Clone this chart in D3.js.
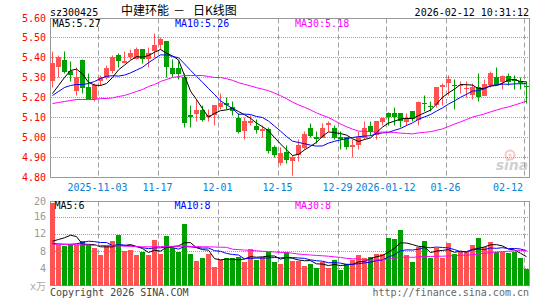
<!DOCTYPE html>
<html>
<head>
<meta charset="utf-8">
<script src="https://cdn.jsdelivr.net/npm/d3@7"></script>
<style>
  body { margin: 0; background: #fff; }
  text { font-family: "DejaVu Sans Mono", monospace; font-size: 10px; }
</style>
</head>
<body>
<div id="chart"></div>
<script>
// -------------------- DATA --------------------

// trading days shown (80 sessions)
const days = [
  "2025-10-22", "2025-10-23", "2025-10-24", "2025-10-27", "2025-10-28", "2025-10-29", "2025-10-30", "2025-10-31",
  "2025-11-03", "2025-11-04", "2025-11-05", "2025-11-06", "2025-11-07",
  "2025-11-10", "2025-11-11", "2025-11-12", "2025-11-13", "2025-11-14",
  "2025-11-17", "2025-11-18", "2025-11-19", "2025-11-20", "2025-11-21",
  "2025-11-24", "2025-11-25", "2025-11-26", "2025-11-27", "2025-11-28",
  "2025-12-01", "2025-12-02", "2025-12-03", "2025-12-04", "2025-12-05",
  "2025-12-08", "2025-12-09", "2025-12-10", "2025-12-11", "2025-12-12",
  "2025-12-15", "2025-12-16", "2025-12-17", "2025-12-18", "2025-12-19",
  "2025-12-22", "2025-12-23", "2025-12-24", "2025-12-25", "2025-12-26",
  "2025-12-29", "2025-12-30", "2025-12-31",
  "2026-01-05", "2026-01-06", "2026-01-07", "2026-01-08", "2026-01-09",
  "2026-01-12", "2026-01-13", "2026-01-14", "2026-01-15", "2026-01-16",
  "2026-01-19", "2026-01-20", "2026-01-21", "2026-01-22", "2026-01-23",
  "2026-01-26", "2026-01-27", "2026-01-28", "2026-01-29", "2026-01-30",
  "2026-02-02", "2026-02-03", "2026-02-04", "2026-02-05", "2026-02-06",
  "2026-02-09", "2026-02-10", "2026-02-11", "2026-02-12"
];

const open = [
  5.28, 5.35, 5.39, 5.33, 5.23, 5.39, 5.25, 5.19, 5.28, 5.30,
  5.33, 5.41, 5.37, 5.40, 5.39, 5.44, 5.39, 5.43, 5.46, 5.48,
  5.35, 5.35, 5.30, 5.11, 5.12, 5.14, 5.10, 5.11, 5.15, 5.17,
  5.15, 5.10, 5.03, 5.07, 5.06, 5.03, 5.04, 4.95, 4.87, 4.93,
  4.88, 4.91, 4.95, 5.05, 5.00, 5.00, 5.06, 5.05, 5.00, 5.00,
  4.95, 4.96, 5.00, 5.06, 5.01, 5.08, 5.12, 5.12, 5.12, 5.08,
  5.13, 5.09, 5.17, 5.155, 5.16, 5.25, 5.27, 5.265, 5.26, 5.24,
  5.21, 5.25, 5.21, 5.26, 5.30, 5.28, 5.31, 5.29, 5.28, 5.255
];
const high = [
  5.43, 5.41, 5.43, 5.38, 5.35, 5.39, 5.32, 5.27, 5.31, 5.36,
  5.41, 5.42, 5.43, 5.44, 5.45, 5.44, 5.45, 5.52, 5.50, 5.48,
  5.39, 5.38, 5.32, 5.16, 5.19, 5.16, 5.14, 5.16, 5.22, 5.20,
  5.18, 5.12, 5.10, 5.11, 5.09, 5.06, 5.05, 4.96, 4.95, 4.96,
  4.91, 4.99, 5.03, 5.07, 5.03, 5.07, 5.08, 5.06, 5.03, 5.00,
  4.99, 5.03, 5.08, 5.08, 5.08, 5.10, 5.125, 5.15, 5.12, 5.12,
  5.13, 5.18, 5.21, 5.18, 5.25, 5.27, 5.31, 5.29, 5.28, 5.28,
  5.27, 5.32, 5.29, 5.33, 5.35, 5.31, 5.32, 5.31, 5.30, 5.28
];
const low = [
  5.25, 5.30, 5.32, 5.28, 5.21, 5.22, 5.19, 5.18, 5.26, 5.29,
  5.32, 5.35, 5.37, 5.39, 5.39, 5.37, 5.35, 5.40, 5.44, 5.30,
  5.30, 5.29, 5.05, 5.05, 5.08, 5.08, 5.08, 5.06, 5.14, 5.14,
  5.11, 5.02, 4.99, 5.06, 5.02, 5.00, 4.92, 4.90, 4.86, 4.87,
  4.81, 4.88, 4.94, 5.00, 4.97, 5.00, 5.03, 4.99, 4.94, 4.94,
  4.90, 4.94, 4.99, 5.01, 4.99, 5.06, 5.06, 5.06, 5.05, 5.06,
  5.08, 5.06, 5.13, 5.13, 5.15, 5.16, 5.21, 5.14, 5.22, 5.20,
  5.19, 5.18, 5.21, 5.25, 5.26, 5.24, 5.26, 5.24, 5.24, 5.17
];
const close = [
  5.37, 5.40, 5.33, 5.31, 5.30, 5.25, 5.19, 5.26, 5.30, 5.35,
  5.40, 5.38, 5.38, 5.42, 5.44, 5.39, 5.42, 5.46, 5.49, 5.35,
  5.32, 5.32, 5.07, 5.10, 5.14, 5.09, 5.11, 5.16, 5.17, 5.16,
  5.13, 5.03, 5.08, 5.08, 5.04, 5.04, 4.93, 4.91, 4.92, 4.89,
  4.90, 4.96, 5.02, 5.01, 4.99, 5.05, 5.07, 5.00, 4.99, 4.95,
  4.96, 5.00, 5.05, 5.03, 5.08, 5.10, 5.10, 5.10, 5.08, 5.10,
  5.09, 5.18, 5.165, 5.15, 5.25, 5.26, 5.29, 5.26, 5.265, 5.245,
  5.25, 5.20, 5.27, 5.32, 5.26, 5.31, 5.28, 5.28, 5.27, 5.25
];

// moving averages of the close (as plotted)
const ma5 = [
  5.22, 5.26, 5.30, 5.335, 5.342, 5.318, 5.276, 5.262, 5.26, 5.27,
  5.30, 5.338, 5.362, 5.386, 5.404, 5.402, 5.41, 5.426, 5.44, 5.422,
  5.408, 5.388, 5.31, 5.232, 5.19, 5.144, 5.102, 5.12, 5.134, 5.138,
  5.146, 5.13, 5.114, 5.096, 5.072, 5.054, 5.034, 5.00, 4.968, 4.938,
  4.91, 4.916, 4.938, 4.956, 4.976, 5.006, 5.028, 5.024, 5.02, 5.012,
  4.994, 4.98, 4.99, 4.998, 5.024, 5.052, 5.072, 5.082, 5.092, 5.096,
  5.094, 5.11, 5.123, 5.137, 5.167, 5.201, 5.223, 5.242, 5.265, 5.264,
  5.262, 5.244, 5.246, 5.257, 5.26, 5.272, 5.288, 5.29, 5.28, 5.278
];
const ma10 = [
  5.21, 5.23, 5.25, 5.26, 5.265, 5.265, 5.27, 5.28, 5.295, 5.306,
  5.309, 5.307, 5.312, 5.323, 5.337, 5.351, 5.374, 5.394, 5.413, 5.413,
  5.405, 5.399, 5.368, 5.336, 5.306, 5.276, 5.245, 5.215, 5.183, 5.164,
  5.145, 5.116, 5.117, 5.115, 5.105, 5.10, 5.082, 5.057, 5.032, 5.005,
  4.982, 4.975, 4.969, 4.962, 4.957, 4.958, 4.972, 4.981, 4.988, 4.994,
  5.00, 5.004, 5.007, 5.009, 5.018, 5.023, 5.026, 5.036, 5.045, 5.06,
  5.073, 5.091, 5.103, 5.115, 5.132, 5.148, 5.167, 5.183, 5.201, 5.216,
  5.232, 5.234, 5.244, 5.261, 5.262, 5.267, 5.266, 5.268, 5.269, 5.269
];
const ma30 = [
  5.17, 5.175, 5.18, 5.185, 5.19, 5.19, 5.19, 5.19, 5.195, 5.195,
  5.198, 5.205, 5.21, 5.22, 5.23, 5.24, 5.255, 5.265, 5.28, 5.29,
  5.30, 5.305, 5.31, 5.31, 5.31, 5.31, 5.305, 5.30, 5.30, 5.294,
  5.286, 5.274, 5.266, 5.258, 5.249, 5.242, 5.234, 5.222, 5.209, 5.194,
  5.177, 5.163, 5.151, 5.138, 5.123, 5.111, 5.10, 5.084, 5.068, 5.054,
  5.042, 5.032, 5.031, 5.029, 5.027, 5.027, 5.027, 5.025, 5.022, 5.02,
  5.018, 5.023, 5.026, 5.029, 5.036, 5.043, 5.055, 5.067, 5.078, 5.09,
  5.102, 5.11, 5.118, 5.128, 5.137, 5.146, 5.153, 5.162, 5.172, 5.182
];

// volume (x万)
const volume = [
  19.3, 9.4, 9.2, 9.6, 9.4, 10.3, 9.4, 8.8, 7.1, 9.3,
  10.3, 11.7, 8.0, 8.3, 7.1, 7.9, 7.1, 10.6, 7.3, 11.5,
  8.8, 7.9, 14.3, 7.3, 5.7, 6.5, 7.3, 4.4, 5.9, 6.5,
  6.3, 6.7, 5.5, 8.5, 5.9, 6.7, 7.7, 5.5, 4.9, 7.7,
  5.8, 5.8, 4.6, 5.0, 4.0, 5.5, 4.1, 5.9, 3.6, 5.0,
  5.9, 7.1, 6.5, 6.7, 7.3, 7.3, 11.1, 10.9, 13.0, 7.1,
  5.5, 9.0, 10.4, 6.3, 8.8, 6.3, 9.9, 7.3, 7.7, 7.7,
  9.4, 11.1, 9.0, 10.1, 7.9, 7.9, 7.5, 7.9, 6.3, 3.9
];
const volMa5 = [
  10.3, 10.7, 11.1, 11.7, 11.38, 9.58, 9.58, 9.5, 9.0, 8.98,
  8.98, 9.44, 9.28, 9.52, 9.08, 8.6, 7.68, 8.2, 8.0, 8.88,
  9.06, 9.22, 9.96, 9.96, 8.8, 8.34, 8.22, 6.24, 5.96, 6.12,
  6.08, 5.96, 6.18, 6.7, 6.58, 6.66, 6.86, 6.86, 6.14, 6.5,
  6.32, 5.94, 5.76, 5.78, 5.04, 4.98, 4.64, 4.9, 4.62, 4.82,
  4.9, 5.5, 5.62, 6.24, 6.7, 6.98, 7.78, 8.66, 9.92, 9.88,
  9.52, 9.1, 9.0, 7.66, 8.0, 8.16, 8.34, 7.72, 8.0, 7.78,
  8.4, 8.64, 8.98, 9.46, 9.5, 9.2, 8.48, 8.26, 7.5, 6.7
];
const volMa10 = [
  9.8, 9.65, 9.6, 9.6, 9.7, 10.0, 10.3, 10.2, 10.0, 10.0,
  9.28, 9.51, 9.39, 9.26, 9.03, 8.79, 8.56, 8.74, 8.76, 8.98,
  8.83, 8.45, 9.08, 8.98, 8.84, 8.7, 8.72, 8.1, 7.96, 7.46,
  7.21, 7.09, 6.21, 6.33, 6.35, 6.37, 6.41, 6.52, 6.42, 6.54,
  6.49, 6.4, 6.31, 5.96, 5.77, 5.65, 5.29, 5.33, 5.2, 4.93,
  4.94, 5.07, 5.26, 5.43, 5.76, 5.94, 6.64, 7.14, 8.08, 8.29,
  8.25, 8.44, 8.83, 8.79, 8.94, 8.84, 8.72, 8.36, 7.83, 7.89,
  8.28, 8.49, 8.35, 8.73, 8.64, 8.8, 8.56, 8.62, 8.48, 8.1
];
const volMa30 = [
  9.6, 9.6, 9.55, 9.5, 9.5, 9.45, 9.4, 9.35, 9.3, 9.3,
  9.25, 9.2, 9.15, 9.1, 9.05, 9.0, 9.0, 9.0, 9.05, 9.1,
  9.1, 9.1, 9.15, 9.1, 9.05, 9.0, 9.0, 8.95, 8.9, 8.87,
  8.44, 8.35, 8.23, 8.19, 8.07, 7.95, 7.9, 7.79, 7.71, 7.66,
  7.51, 7.31, 7.2, 7.09, 6.99, 6.91, 6.81, 6.65, 6.53, 6.31,
  6.21, 6.19, 5.93, 5.91, 5.96, 5.99, 6.11, 6.33, 6.57, 6.59,
  6.56, 6.64, 6.8, 6.73, 6.82, 6.81, 6.88, 6.94, 7.04, 7.04,
  7.16, 7.33, 7.48, 7.65, 7.78, 7.86, 7.97, 8.04, 8.13, 8.09
];

// axis ticks
const priceTicks = [5.60, 5.50, 5.40, 5.30, 5.20, 5.10, 5.00, 4.90, 4.80];
const volTicks = [20, 16, 12, 8, 4];
const tickDays = ["2025-11-03", "2025-11-17", "2025-12-01", "2025-12-15", "2025-12-29", "2026-01-12", "2026-01-26", "2026-02-12"];
const tickLabels = ["2025-11-03", "11-17", "12-01", "12-15", "12-29", "2026-01-12", "01-26", "02-12"];

// -------------------- LAYOUT --------------------

const width = 545;
const height = 300;
const left = 50, right = 530;
const priceTop = 18.5, priceBottom = 177.5;
const volTop = 201.5, volBottom = 285.5;

const red = "#ff5252";
const green = "#00a000";
const gridColor = "#a0a0a0";

const x = d3.scaleBand().domain(days).range([left, right]);
const yPrice = d3.scaleLinear().domain([4.80, 5.60]).range([177.5, 17.5]);
const yVol = d3.scaleLinear().domain([0, 20]).range([285.5, 199.5]);

const bars = days.map((d, i) => ({
  day: d, o: open[i], h: high[i], l: low[i], c: close[i], v: volume[i]
}));

const svg = d3.select("#chart")
  .append("svg")
  .attr("width", width)
  .attr("height", height);

svg.append("rect").attr("width", width).attr("height", height).attr("fill", "#fff");

// -------------------- HEADER --------------------

svg.append("text").attr("x", 50).attr("y", 15.5).attr("fill", "#000").text("sz300425");

const title = svg.append("text")
  .attr("y", 15)
  .attr("fill", "#000")
  .style("font-family", "'Noto Sans CJK SC', sans-serif")
  .style("font-size", "12px");
title.append("tspan").attr("x", 121).text("中建环能");
title.append("tspan").attr("x", 173).text("－");
title.append("tspan").attr("x", 193).text("日K线图");

svg.append("text")
  .attr("x", 529).attr("y", 15.5)
  .attr("text-anchor", "end")
  .attr("fill", "#000")
  .text("2026-02-12 10:31:12");

// -------------------- FRAMES & GRID --------------------

function panel(top, bottom) {
  // vertical dashed lines at date ticks
  svg.append("g")
    .selectAll("line")
    .data(tickDays)
    .enter()
    .append("line")
    .attr("x1", d => x(d) + 0.5)
    .attr("x2", d => x(d) + 0.5)
    .attr("y1", top)
    .attr("y2", bottom)
    .attr("stroke", gridColor)
    .attr("stroke-dasharray", "5,3");

  svg.append("rect")
    .attr("x", left + 0.5)
    .attr("y", top)
    .attr("width", right - left - 1)
    .attr("height", bottom - top)
    .attr("fill", "none")
    .attr("stroke", "#999");
}

panel(priceTop, priceBottom);
panel(volTop, volBottom);

// horizontal dotted lines
svg.append("g")
  .selectAll("line")
  .data(priceTicks.filter(v => v < 5.55 && v > 4.85))
  .enter()
  .append("line")
  .attr("x1", left + 1)
  .attr("x2", right - 1)
  .attr("y1", d => yPrice(d))
  .attr("y2", d => yPrice(d))
  .attr("stroke", gridColor)
  .attr("stroke-dasharray", "1,1");

svg.append("g")
  .selectAll("line")
  .data(volTicks.filter(v => v < 20))
  .enter()
  .append("line")
  .attr("x1", left + 1)
  .attr("x2", right - 1)
  .attr("y1", d => Math.round(yVol(d)) + 0.5)
  .attr("y2", d => Math.round(yVol(d)) + 0.5)
  .attr("stroke", gridColor)
  .attr("stroke-dasharray", "1,1");

// -------------------- AXIS LABELS --------------------

svg.append("g")
  .selectAll("text")
  .data(priceTicks)
  .enter()
  .append("text")
  .attr("x", 46)
  .attr("y", d => Math.max(yPrice(d), priceTop) + 3.5)
  .attr("text-anchor", "end")
  .attr("fill", "#f00")
  .text(d => d.toFixed(2));

svg.append("g")
  .selectAll("text")
  .data(volTicks)
  .enter()
  .append("text")
  .attr("x", 46)
  .attr("y", d => Math.max(yVol(d), volTop) + 3.5)
  .attr("text-anchor", "end")
  .attr("fill", "#999")
  .text(d => d);

const unit = svg.append("text")
  .attr("x", 46).attr("y", 289.5)
  .attr("text-anchor", "end")
  .attr("fill", "#aaa");
unit.append("tspan").text("x");
unit.append("tspan").style("font-family", "'Noto Sans CJK SC', sans-serif").text("万");

svg.append("g")
  .selectAll("text")
  .data(tickDays)
  .enter()
  .append("text")
  .attr("x", (d, i) => i === tickDays.length - 1 ? 523 : x(d) - 0.5)
  .attr("y", 190.5)
  .attr("text-anchor", (d, i) => i === tickDays.length - 1 ? "end" : "middle")
  .attr("fill", "#0a80d0")
  .text((d, i) => tickLabels[i]);

// -------------------- WATERMARK --------------------

const mark = svg.append("g").attr("opacity", 0.45);
mark.append("circle").attr("cx", 510).attr("cy", 155).attr("r", 4.5).attr("fill", "none").attr("stroke", "#e88").attr("stroke-width", 2);
mark.append("circle").attr("cx", 510).attr("cy", 155).attr("r", 1.5).attr("fill", "#e88");
mark.append("text")
  .attr("x", 512).attr("y", 169.5)
  .attr("text-anchor", "middle")
  .attr("fill", "#999")
  .style("font-family", "'DejaVu Sans', sans-serif")
  .style("font-size", "14px")
  .style("font-weight", "bold")
  .style("font-style", "italic")
  .text("sina");

// -------------------- CANDLES --------------------

const candle = svg.append("g")
  .selectAll("g")
  .data(bars)
  .enter()
  .append("g")
  .attr("fill", d => d.c >= d.o ? red : green)
  .attr("stroke", d => d.c >= d.o ? red : green);

candle.append("line")
  .attr("x1", d => x(d.day) + 2.5)
  .attr("x2", d => x(d.day) + 2.5)
  .attr("y1", d => yPrice(d.h))
  .attr("y2", d => yPrice(d.l));

candle.append("rect")
  .attr("stroke", "none")
  .attr("x", d => x(d.day))
  .attr("width", 5)
  .attr("y", d => Math.round(yPrice(Math.max(d.o, d.c))))
  .attr("height", d => Math.max(1, Math.round(Math.abs(yPrice(d.o) - yPrice(d.c)))));

// moving average lines
const priceLine = d3.line()
  .x((d, i) => x(days[i]) + 2.5)
  .y(d => yPrice(d));

[[ma5, "#000"], [ma10, "#00f"], [ma30, "#f0f"]].forEach(([s, col]) => {
  svg.append("path")
    .attr("d", priceLine(s))
    .attr("fill", "none")
    .attr("stroke", col)
    .attr("stroke-width", 1);
});

// legend
svg.append("text").attr("x", 52.5).attr("y", 26.5).attr("fill", "#000").text("MA5:5.27");
svg.append("text").attr("x", 175).attr("y", 26.5).attr("fill", "#00f").text("MA10:5.26");
svg.append("text").attr("x", 295).attr("y", 26.5).attr("fill", "#f0f").text("MA30:5.18");

// -------------------- VOLUME --------------------

svg.append("g")
  .selectAll("rect")
  .data(bars)
  .enter()
  .append("rect")
  .attr("x", d => x(d.day))
  .attr("width", 5)
  .attr("y", d => Math.max(Math.round(yVol(d.v)), volTop + 0.5))
  .attr("height", d => volBottom - Math.max(Math.round(yVol(d.v)), volTop + 0.5))
  .attr("fill", d => d.c >= d.o ? red : green);

const volLine = d3.line()
  .x((d, i) => x(days[i]) + 2.5)
  .y(d => yVol(d));

[[volMa5, "#000"], [volMa10, "#00f"], [volMa30, "#f0f"]].forEach(([s, col]) => {
  svg.append("path")
    .attr("d", volLine(s))
    .attr("fill", "none")
    .attr("stroke", col)
    .attr("stroke-width", 1);
});

svg.append("text").attr("x", 54.5).attr("y", 209).attr("fill", "#000").text("MA5:6");
svg.append("text").attr("x", 174.5).attr("y", 209).attr("fill", "#00f").text("MA10:8");
svg.append("text").attr("x", 295).attr("y", 209).attr("fill", "#f0f").text("MA30:8");

// -------------------- FOOTER --------------------

svg.append("text").attr("x", 50).attr("y", 296).attr("fill", "#444").text("Copyright 2026 SINA.COM");
svg.append("text").attr("x", 529).attr("y", 296).attr("text-anchor", "end").attr("fill", "#666").text("http://finance.sina.com.cn");
</script>
</body>
</html>
